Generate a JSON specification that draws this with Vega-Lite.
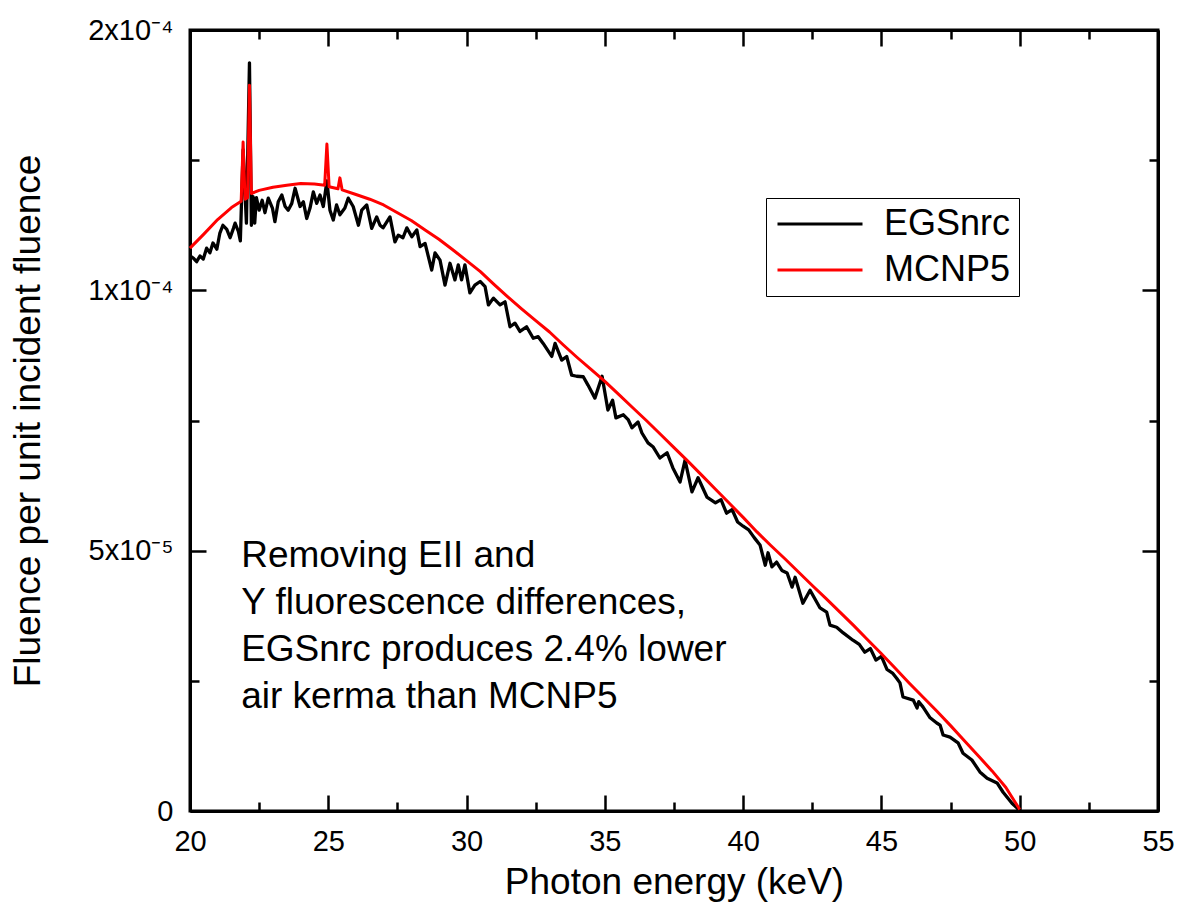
{
  "$schema": "https://vega.github.io/schema/vega-lite/v6.json",
  "width": 968,
  "height": 781,
  "autosize": {"type": "none"},
  "padding": {"left": 190, "top": 30, "right": 20, "bottom": 109},
  "background": "white",
  "config": {"view": {"stroke": "black", "strokeWidth": 3}, "font": "Liberation Sans"},
  "datasets": {
    "egs": [
      {"series":"EGSnrc","energy":20.00,"fluence":10.66e-5},{"series":"EGSnrc","energy":20.12,"fluence":10.62e-5},{"series":"EGSnrc","energy":20.24,"fluence":10.55e-5},{"series":"EGSnrc","energy":20.36,"fluence":10.66e-5},{"series":"EGSnrc","energy":20.48,"fluence":10.60e-5},{"series":"EGSnrc","energy":20.60,"fluence":10.81e-5},{"series":"EGSnrc","energy":20.72,"fluence":10.72e-5},{"series":"EGSnrc","energy":20.83,"fluence":10.91e-5},{"series":"EGSnrc","energy":20.97,"fluence":10.79e-5},{"series":"EGSnrc","energy":21.08,"fluence":11.10e-5},
      {"series":"EGSnrc","energy":21.19,"fluence":11.25e-5},{"series":"EGSnrc","energy":21.33,"fluence":11.17e-5},{"series":"EGSnrc","energy":21.45,"fluence":11.01e-5},{"series":"EGSnrc","energy":21.57,"fluence":11.19e-5},{"series":"EGSnrc","energy":21.63,"fluence":11.29e-5},{"series":"EGSnrc","energy":21.75,"fluence":11.13e-5},{"series":"EGSnrc","energy":21.82,"fluence":10.95e-5},{"series":"EGSnrc","energy":21.92,"fluence":12.70e-5},{"series":"EGSnrc","energy":22.04,"fluence":11.29e-5},{"series":"EGSnrc","energy":22.15,"fluence":14.37e-5},
      {"series":"EGSnrc","energy":22.22,"fluence":11.25e-5},{"series":"EGSnrc","energy":22.28,"fluence":11.80e-5},{"series":"EGSnrc","energy":22.34,"fluence":11.29e-5},{"series":"EGSnrc","energy":22.40,"fluence":11.78e-5},{"series":"EGSnrc","energy":22.50,"fluence":11.54e-5},{"series":"EGSnrc","energy":22.61,"fluence":11.73e-5},{"series":"EGSnrc","energy":22.71,"fluence":11.49e-5},{"series":"EGSnrc","energy":22.83,"fluence":11.77e-5},{"series":"EGSnrc","energy":22.98,"fluence":11.58e-5},{"series":"EGSnrc","energy":23.07,"fluence":11.32e-5},
      {"series":"EGSnrc","energy":23.19,"fluence":11.70e-5},{"series":"EGSnrc","energy":23.32,"fluence":11.83e-5},{"series":"EGSnrc","energy":23.44,"fluence":11.61e-5},{"series":"EGSnrc","energy":23.55,"fluence":11.54e-5},{"series":"EGSnrc","energy":23.68,"fluence":11.67e-5},{"series":"EGSnrc","energy":23.80,"fluence":11.96e-5},{"series":"EGSnrc","energy":23.98,"fluence":11.61e-5},{"series":"EGSnrc","energy":24.10,"fluence":11.70e-5},{"series":"EGSnrc","energy":24.22,"fluence":11.38e-5},{"series":"EGSnrc","energy":24.34,"fluence":11.58e-5},
      {"series":"EGSnrc","energy":24.46,"fluence":11.89e-5},{"series":"EGSnrc","energy":24.58,"fluence":11.67e-5},{"series":"EGSnrc","energy":24.70,"fluence":11.83e-5},{"series":"EGSnrc","energy":24.82,"fluence":11.61e-5},{"series":"EGSnrc","energy":24.95,"fluence":12.10e-5},{"series":"EGSnrc","energy":25.06,"fluence":11.54e-5},{"series":"EGSnrc","energy":25.18,"fluence":11.35e-5},{"series":"EGSnrc","energy":25.30,"fluence":11.64e-5},{"series":"EGSnrc","energy":25.42,"fluence":11.45e-5},{"series":"EGSnrc","energy":25.60,"fluence":11.58e-5},
      {"series":"EGSnrc","energy":25.72,"fluence":11.77e-5},{"series":"EGSnrc","energy":25.90,"fluence":11.61e-5},{"series":"EGSnrc","energy":26.09,"fluence":11.25e-5},{"series":"EGSnrc","energy":26.21,"fluence":11.54e-5},{"series":"EGSnrc","energy":26.39,"fluence":11.64e-5},{"series":"EGSnrc","energy":26.57,"fluence":11.19e-5},{"series":"EGSnrc","energy":26.75,"fluence":11.41e-5},{"series":"EGSnrc","energy":26.87,"fluence":11.25e-5},{"series":"EGSnrc","energy":26.98,"fluence":11.20e-5},{"series":"EGSnrc","energy":27.23,"fluence":11.41e-5},
      {"series":"EGSnrc","energy":27.41,"fluence":10.93e-5},{"series":"EGSnrc","energy":27.53,"fluence":11.06e-5},{"series":"EGSnrc","energy":27.70,"fluence":11.01e-5},{"series":"EGSnrc","energy":27.84,"fluence":11.20e-5},{"series":"EGSnrc","energy":28.02,"fluence":11.03e-5},{"series":"EGSnrc","energy":28.20,"fluence":11.16e-5},{"series":"EGSnrc","energy":28.32,"fluence":10.84e-5},{"series":"EGSnrc","energy":28.50,"fluence":10.90e-5},{"series":"EGSnrc","energy":28.74,"fluence":10.39e-5},{"series":"EGSnrc","energy":28.86,"fluence":10.72e-5},
      {"series":"EGSnrc","energy":29.04,"fluence":10.58e-5},{"series":"EGSnrc","energy":29.22,"fluence":10.10e-5},{"series":"EGSnrc","energy":29.40,"fluence":10.52e-5},{"series":"EGSnrc","energy":29.58,"fluence":10.20e-5},{"series":"EGSnrc","energy":29.70,"fluence":10.49e-5},{"series":"EGSnrc","energy":29.82,"fluence":10.20e-5},{"series":"EGSnrc","energy":29.94,"fluence":10.49e-5},{"series":"EGSnrc","energy":30.12,"fluence":9.95e-5},{"series":"EGSnrc","energy":30.30,"fluence":10.10e-5},{"series":"EGSnrc","energy":30.49,"fluence":10.17e-5},
      {"series":"EGSnrc","energy":30.67,"fluence":10.07e-5},{"series":"EGSnrc","energy":30.79,"fluence":9.72e-5},{"series":"EGSnrc","energy":30.97,"fluence":9.85e-5},{"series":"EGSnrc","energy":31.21,"fluence":9.72e-5},{"series":"EGSnrc","energy":31.39,"fluence":9.78e-5},{"series":"EGSnrc","energy":31.57,"fluence":9.30e-5},{"series":"EGSnrc","energy":31.75,"fluence":9.37e-5},{"series":"EGSnrc","energy":31.93,"fluence":9.21e-5},{"series":"EGSnrc","energy":32.17,"fluence":9.30e-5},{"series":"EGSnrc","energy":32.41,"fluence":9.08e-5},
      {"series":"EGSnrc","energy":32.59,"fluence":9.11e-5},{"series":"EGSnrc","energy":32.77,"fluence":8.98e-5},{"series":"EGSnrc","energy":33.08,"fluence":8.73e-5},{"series":"EGSnrc","energy":33.20,"fluence":8.98e-5},{"series":"EGSnrc","energy":33.44,"fluence":8.66e-5},{"series":"EGSnrc","energy":33.62,"fluence":8.73e-5},{"series":"EGSnrc","energy":33.80,"fluence":8.37e-5},{"series":"EGSnrc","energy":33.98,"fluence":8.35e-5},{"series":"EGSnrc","energy":34.22,"fluence":8.34e-5},{"series":"EGSnrc","energy":34.39,"fluence":8.18e-5},
      {"series":"EGSnrc","energy":34.64,"fluence":7.93e-5},{"series":"EGSnrc","energy":34.90,"fluence":8.35e-5},{"series":"EGSnrc","energy":35.11,"fluence":7.70e-5},{"series":"EGSnrc","energy":35.28,"fluence":7.89e-5},{"series":"EGSnrc","energy":35.40,"fluence":7.55e-5},{"series":"EGSnrc","energy":35.67,"fluence":7.61e-5},{"series":"EGSnrc","energy":35.85,"fluence":7.51e-5},{"series":"EGSnrc","energy":35.98,"fluence":7.36e-5},{"series":"EGSnrc","energy":36.20,"fluence":7.47e-5},{"series":"EGSnrc","energy":36.34,"fluence":7.26e-5},
      {"series":"EGSnrc","energy":36.56,"fluence":7.07e-5},{"series":"EGSnrc","energy":36.75,"fluence":6.99e-5},{"series":"EGSnrc","energy":36.99,"fluence":6.78e-5},{"series":"EGSnrc","energy":37.25,"fluence":6.88e-5},{"series":"EGSnrc","energy":37.46,"fluence":6.59e-5},{"series":"EGSnrc","energy":37.72,"fluence":6.32e-5},{"series":"EGSnrc","energy":37.90,"fluence":6.74e-5},{"series":"EGSnrc","energy":38.15,"fluence":6.13e-5},{"series":"EGSnrc","energy":38.37,"fluence":6.40e-5},{"series":"EGSnrc","energy":38.69,"fluence":6.03e-5},
      {"series":"EGSnrc","energy":39.00,"fluence":5.92e-5},{"series":"EGSnrc","energy":39.20,"fluence":5.98e-5},{"series":"EGSnrc","energy":39.40,"fluence":5.72e-5},{"series":"EGSnrc","energy":39.60,"fluence":5.79e-5},{"series":"EGSnrc","energy":39.80,"fluence":5.55e-5},{"series":"EGSnrc","energy":40.00,"fluence":5.47e-5},{"series":"EGSnrc","energy":40.20,"fluence":5.40e-5},{"series":"EGSnrc","energy":40.40,"fluence":5.25e-5},{"series":"EGSnrc","energy":40.61,"fluence":5.11e-5},{"series":"EGSnrc","energy":40.80,"fluence":4.72e-5},
      {"series":"EGSnrc","energy":40.90,"fluence":4.96e-5},{"series":"EGSnrc","energy":41.04,"fluence":4.69e-5},{"series":"EGSnrc","energy":41.21,"fluence":4.78e-5},{"series":"EGSnrc","energy":41.40,"fluence":4.62e-5},{"series":"EGSnrc","energy":41.59,"fluence":4.57e-5},{"series":"EGSnrc","energy":41.77,"fluence":4.30e-5},{"series":"EGSnrc","energy":41.88,"fluence":4.49e-5},{"series":"EGSnrc","energy":42.16,"fluence":3.99e-5},{"series":"EGSnrc","energy":42.42,"fluence":4.24e-5},{"series":"EGSnrc","energy":42.78,"fluence":3.90e-5},
      {"series":"EGSnrc","energy":43.02,"fluence":3.82e-5},{"series":"EGSnrc","energy":43.14,"fluence":3.57e-5},{"series":"EGSnrc","energy":43.38,"fluence":3.53e-5},{"series":"EGSnrc","energy":43.62,"fluence":3.42e-5},{"series":"EGSnrc","energy":43.97,"fluence":3.28e-5},{"series":"EGSnrc","energy":44.20,"fluence":3.20e-5},{"series":"EGSnrc","energy":44.40,"fluence":3.05e-5},{"series":"EGSnrc","energy":44.60,"fluence":3.12e-5},{"series":"EGSnrc","energy":44.80,"fluence":2.90e-5},{"series":"EGSnrc","energy":45.00,"fluence":2.97e-5},
      {"series":"EGSnrc","energy":45.20,"fluence":2.72e-5},{"series":"EGSnrc","energy":45.40,"fluence":2.65e-5},{"series":"EGSnrc","energy":45.55,"fluence":2.55e-5},{"series":"EGSnrc","energy":45.67,"fluence":2.46e-5},{"series":"EGSnrc","energy":45.78,"fluence":2.19e-5},{"series":"EGSnrc","energy":46.15,"fluence":2.13e-5},{"series":"EGSnrc","energy":46.29,"fluence":1.98e-5},{"series":"EGSnrc","energy":46.35,"fluence":2.10e-5},{"series":"EGSnrc","energy":46.50,"fluence":2.00e-5},{"series":"EGSnrc","energy":46.76,"fluence":1.79e-5},
      {"series":"EGSnrc","energy":47.00,"fluence":1.69e-5},{"series":"EGSnrc","energy":47.12,"fluence":1.65e-5},{"series":"EGSnrc","energy":47.23,"fluence":1.46e-5},{"series":"EGSnrc","energy":47.48,"fluence":1.42e-5},{"series":"EGSnrc","energy":47.77,"fluence":1.31e-5},{"series":"EGSnrc","energy":47.95,"fluence":1.11e-5},{"series":"EGSnrc","energy":48.27,"fluence":0.98e-5},{"series":"EGSnrc","energy":48.56,"fluence":0.75e-5},{"series":"EGSnrc","energy":48.82,"fluence":0.63e-5},{"series":"EGSnrc","energy":49.18,"fluence":0.54e-5},
      {"series":"EGSnrc","energy":49.40,"fluence":0.36e-5},{"series":"EGSnrc","energy":49.72,"fluence":0.15e-5},{"series":"EGSnrc","energy":49.90,"fluence":0.06e-5},{"series":"EGSnrc","energy":50.00,"fluence":0.0}
    ],
    "mcnp": [
      {"series":"MCNP5","energy":20.0,"fluence":10.81e-5},{"series":"MCNP5","energy":20.5,"fluence":11.08e-5},{"series":"MCNP5","energy":21.0,"fluence":11.36e-5},{"series":"MCNP5","energy":21.5,"fluence":11.59e-5},{"series":"MCNP5","energy":21.85,"fluence":11.71e-5},{"series":"MCNP5","energy":21.92,"fluence":12.85e-5},{"series":"MCNP5","energy":21.99,"fluence":11.75e-5},{"series":"MCNP5","energy":22.08,"fluence":11.78e-5},{"series":"MCNP5","energy":22.15,"fluence":13.94e-5},{"series":"MCNP5","energy":22.22,"fluence":11.86e-5},
      {"series":"MCNP5","energy":22.5,"fluence":11.92e-5},{"series":"MCNP5","energy":23.0,"fluence":11.98e-5},{"series":"MCNP5","energy":23.5,"fluence":12.02e-5},{"series":"MCNP5","energy":24.0,"fluence":12.05e-5},{"series":"MCNP5","energy":24.5,"fluence":12.04e-5},{"series":"MCNP5","energy":24.87,"fluence":12.02e-5},{"series":"MCNP5","energy":24.95,"fluence":12.81e-5},{"series":"MCNP5","energy":25.03,"fluence":11.99e-5},{"series":"MCNP5","energy":25.35,"fluence":11.95e-5},{"series":"MCNP5","energy":25.42,"fluence":12.16e-5},
      {"series":"MCNP5","energy":25.5,"fluence":11.93e-5},{"series":"MCNP5","energy":26.0,"fluence":11.84e-5},{"series":"MCNP5","energy":26.5,"fluence":11.75e-5},{"series":"MCNP5","energy":27.0,"fluence":11.64e-5},{"series":"MCNP5","energy":27.5,"fluence":11.49e-5},{"series":"MCNP5","energy":28.0,"fluence":11.34e-5},{"series":"MCNP5","energy":28.5,"fluence":11.16e-5},{"series":"MCNP5","energy":29.0,"fluence":10.98e-5},{"series":"MCNP5","energy":29.5,"fluence":10.78e-5},{"series":"MCNP5","energy":30.0,"fluence":10.57e-5},
      {"series":"MCNP5","energy":30.5,"fluence":10.36e-5},{"series":"MCNP5","energy":31.0,"fluence":10.11e-5},{"series":"MCNP5","energy":31.5,"fluence":9.87e-5},{"series":"MCNP5","energy":32.0,"fluence":9.64e-5},{"series":"MCNP5","energy":32.5,"fluence":9.42e-5},{"series":"MCNP5","energy":33.0,"fluence":9.20e-5},{"series":"MCNP5","energy":33.5,"fluence":8.95e-5},{"series":"MCNP5","energy":34.0,"fluence":8.71e-5},{"series":"MCNP5","energy":34.5,"fluence":8.48e-5},{"series":"MCNP5","energy":35.0,"fluence":8.25e-5},
      {"series":"MCNP5","energy":35.5,"fluence":8.00e-5},{"series":"MCNP5","energy":36.0,"fluence":7.75e-5},{"series":"MCNP5","energy":36.5,"fluence":7.50e-5},{"series":"MCNP5","energy":37.0,"fluence":7.24e-5},{"series":"MCNP5","energy":37.5,"fluence":6.98e-5},{"series":"MCNP5","energy":38.0,"fluence":6.72e-5},{"series":"MCNP5","energy":38.5,"fluence":6.45e-5},{"series":"MCNP5","energy":39.0,"fluence":6.18e-5},{"series":"MCNP5","energy":39.5,"fluence":5.91e-5},{"series":"MCNP5","energy":40.0,"fluence":5.64e-5},
      {"series":"MCNP5","energy":40.5,"fluence":5.36e-5},{"series":"MCNP5","energy":41.0,"fluence":5.10e-5},{"series":"MCNP5","energy":41.5,"fluence":4.85e-5},{"series":"MCNP5","energy":42.0,"fluence":4.59e-5},{"series":"MCNP5","energy":42.5,"fluence":4.33e-5},{"series":"MCNP5","energy":43.0,"fluence":4.08e-5},{"series":"MCNP5","energy":43.5,"fluence":3.82e-5},{"series":"MCNP5","energy":44.0,"fluence":3.56e-5},{"series":"MCNP5","energy":44.5,"fluence":3.29e-5},{"series":"MCNP5","energy":45.0,"fluence":3.02e-5},
      {"series":"MCNP5","energy":45.5,"fluence":2.74e-5},{"series":"MCNP5","energy":46.0,"fluence":2.46e-5},{"series":"MCNP5","energy":46.5,"fluence":2.19e-5},{"series":"MCNP5","energy":47.0,"fluence":1.92e-5},{"series":"MCNP5","energy":47.5,"fluence":1.64e-5},{"series":"MCNP5","energy":48.0,"fluence":1.35e-5},{"series":"MCNP5","energy":48.5,"fluence":1.06e-5},{"series":"MCNP5","energy":49.0,"fluence":0.77e-5},{"series":"MCNP5","energy":49.5,"fluence":0.45e-5},{"series":"MCNP5","energy":50.0,"fluence":0.03e-5}
    ]
  },
  "layer": [
    {
      "data": {"name": "egs"},
      "mark": {"type": "line", "strokeWidth": 3.3, "strokeJoin": "round"},
      "encoding": {
        "x": {
          "field": "energy", "type": "quantitative",
          "scale": {"domain": [20, 55], "nice": false, "zero": false},
          "axis": {
            "orient": "bottom",
            "values": [20, 22.5, 25, 27.5, 30, 32.5, 35, 37.5, 40, 42.5, 45, 47.5, 50, 52.5, 55],
            "tickSize": {"condition": {"test": "datum.value % 5 == 0", "value": -16}, "value": -9},
            "tickWidth": 2.5, "tickColor": "black",
            "domainColor": "black", "domainWidth": 3,
            "labelExpr": "datum.value % 5 == 0 ? datum.label : ''",
            "labelFont": "Liberation Sans", "labelFontSize": 29, "labelColor": "black",
            "labelPadding": 32, "labelBaseline": "top", "labelFlush": false, "labelOverlap": false,
            "grid": false,
            "title": "Photon energy (keV)", "titleFont": "Liberation Sans", "titleFontSize": 37,
            "titleFontWeight": "normal", "titleColor": "black", "titlePadding": 1
          }
        },
        "y": {
          "field": "fluence", "type": "quantitative",
          "scale": {"domain": [0, 0.00015], "nice": false},
          "axis": {
            "orient": "left",
            "values": [0, 0.000025, 0.00005, 0.000075, 0.0001, 0.000125, 0.00015],
            "tickSize": {"condition": {"test": "abs(datum.value/0.00005 - round(datum.value/0.00005)) < 0.01", "value": -16}, "value": -9},
            "tickWidth": 2.5, "tickColor": "black",
            "domainColor": "black", "domainWidth": 3,
            "labelExpr": "datum.value == 0 ? '0' : abs(datum.value - 0.00005) < 1e-7 ? '5x10⁻⁵' : abs(datum.value - 0.0001) < 1e-7 ? '1x10⁻⁴' : abs(datum.value - 0.00015) < 1e-7 ? '2x10⁻⁴' : ''",
            "labelFont": "Liberation Sans", "labelFontSize": 29, "labelColor": "black",
            "labelPadding": 33, "labelAlign": "right", "labelBaseline": "middle", "labelFlush": false, "labelOverlap": false,
            "grid": false,
            "title": "Fluence per unit incident fluence", "titleFont": "Liberation Sans", "titleFontSize": 37,
            "titleFontWeight": "normal", "titleColor": "black", "titlePadding": 40
          }
        },
        "color": {
          "field": "series", "type": "nominal",
          "scale": {"domain": ["EGSnrc", "MCNP5"], "range": ["#000000", "#ff0000"]},
          "legend": {
            "orient": "none", "legendX": 576, "legendY": 168, "title": null,
            "symbolType": "M-3,0H3", "symbolSize": 803, "symbolStrokeWidth": 3, "symbolOffset": 28,
            "labelFont": "Liberation Sans", "labelFontSize": 36, "labelColor": "black", "labelOffset": 46, "labelLimit": 400,
            "strokeColor": "black", "fillColor": "white", "padding": 8, "rowPadding": 10
          }
        }
      }
    },
    {
      "data": {"name": "mcnp"},
      "mark": {"type": "line", "strokeWidth": 3, "strokeJoin": "round"},
      "encoding": {
        "x": {
          "field": "energy", "type": "quantitative",
          "axis": {
            "orient": "top",
            "values": [20, 22.5, 25, 27.5, 30, 32.5, 35, 37.5, 40, 42.5, 45, 47.5, 50, 52.5, 55],
            "tickSize": {"condition": {"test": "datum.value % 5 == 0", "value": -16}, "value": -9},
            "tickWidth": 2.5, "tickColor": "black",
            "domainColor": "black", "domainWidth": 3,
            "labels": false, "grid": false, "title": null
          }
        },
        "y": {
          "field": "fluence", "type": "quantitative",
          "axis": {
            "orient": "right",
            "values": [0, 0.000025, 0.00005, 0.000075, 0.0001, 0.000125, 0.00015],
            "tickSize": {"condition": {"test": "abs(datum.value/0.00005 - round(datum.value/0.00005)) < 0.01", "value": -16}, "value": -9},
            "tickWidth": 2.5, "tickColor": "black",
            "domainColor": "black", "domainWidth": 3,
            "labels": false, "grid": false, "title": null
          }
        },
        "color": {
          "field": "series", "type": "nominal",
          "scale": {"domain": ["EGSnrc", "MCNP5"], "range": ["#000000", "#ff0000"]},
          "legend": {
            "orient": "none", "legendX": 576, "legendY": 168, "title": null,
            "symbolType": "M-3,0H3", "symbolSize": 803, "symbolStrokeWidth": 3, "symbolOffset": 28,
            "labelFont": "Liberation Sans", "labelFontSize": 36, "labelColor": "black", "labelOffset": 46, "labelLimit": 400,
            "strokeColor": "black", "fillColor": "white", "padding": 8, "rowPadding": 10
          }
        }
      }
    },
    {
      "data": {"values": [{}]},
      "mark": {
        "type": "text", "align": "left", "baseline": "alphabetic",
        "font": "Liberation Sans", "fontSize": 37, "color": "black", "lineBreak": "\n", "lineHeight": 47,
        "text": "Removing EII and\nY fluorescence differences,\nEGSnrc produces 2.4% lower\nair kerma than MCNP5"
      },
      "encoding": {
        "x": {"datum": 21.85, "type": "quantitative", "axis": null},
        "y": {"datum": 0.00004692, "type": "quantitative", "axis": null}
      }
    }
  ],
  "resolve": {"axis": {"x": "independent", "y": "independent"}}
}
